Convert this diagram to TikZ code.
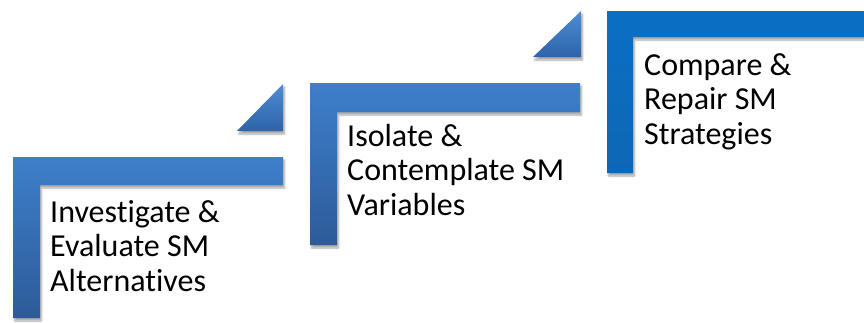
\documentclass[tikz,border=0pt]{standalone}
\usepackage{fontspec}
\setmainfont[Ligatures=NoCommon]{Carlito}
\usetikzlibrary{shadows.blur}
\definecolor{stepTop}{HTML}{3E7FCB}
\definecolor{stepBot}{HTML}{2D5B98}
\definecolor{stepThree}{HTML}{0A6FC3}
\definecolor{stepThreeB}{HTML}{0E67B5}
\definecolor{triTop}{HTML}{4D8DD4}
\definecolor{triBot}{HTML}{2E63A9}
\tikzset{
  lshape/.style={top color=stepTop, bottom color=stepBot, draw=none,
    blur shadow={shadow xshift=1.5pt, shadow yshift=-3pt, shadow blur steps=6, shadow opacity=35}},
  lshapethree/.style={top color=stepThree, bottom color=stepThreeB, draw=none,
    blur shadow={shadow xshift=1.5pt, shadow yshift=-3pt, shadow blur steps=6, shadow opacity=35}},
  tri/.style={top color=triTop, bottom color=triBot, draw=none,
    blur shadow={shadow xshift=1.5pt, shadow yshift=-3pt, shadow blur steps=6, shadow opacity=35}},
  steptext/.style={anchor=base west, align=left, inner sep=0pt,
    font=\fontsize{32}{34.5}\selectfont, text=black}
}
\begin{document}
\begin{tikzpicture}[x=1pt,y=-1pt]
\useasboundingbox (0,0) rectangle (864,322);
\clip (0,0) rectangle (864,322);
% step 1
\path[lshape] (13,157) -- (283,157) -- (283,185) -- (40,185) -- (40,318) -- (13,318) -- cycle;
% triangle 1
\path[tri] (283,84) -- (283,131) -- (237,131) -- cycle;
% step 2
\path[lshape] (310,83) -- (580,83) -- (580,112) -- (337,112) -- (337,245) -- (310,245) -- cycle;
% triangle 2
\path[tri] (581,11) -- (581,57) -- (533,57) -- cycle;
% step 3
\path[lshapethree] (607,11) -- (880,11) -- (880,37) -- (633,37) -- (633,173) -- (607,173) -- cycle;
% texts (anchored at the baseline of the last line)
\node[steptext] (t1) at (50,291) {Investigate \&\\Evaluate SM\\Alternatives};
\node[steptext] (t2) at (347,215) {Isolate \&\\Contemplate SM\\Variables};
\node[steptext] (t3) at (644,144) {Compare \&\\Repair SM\\Strategies};
\end{tikzpicture}
\end{document}
